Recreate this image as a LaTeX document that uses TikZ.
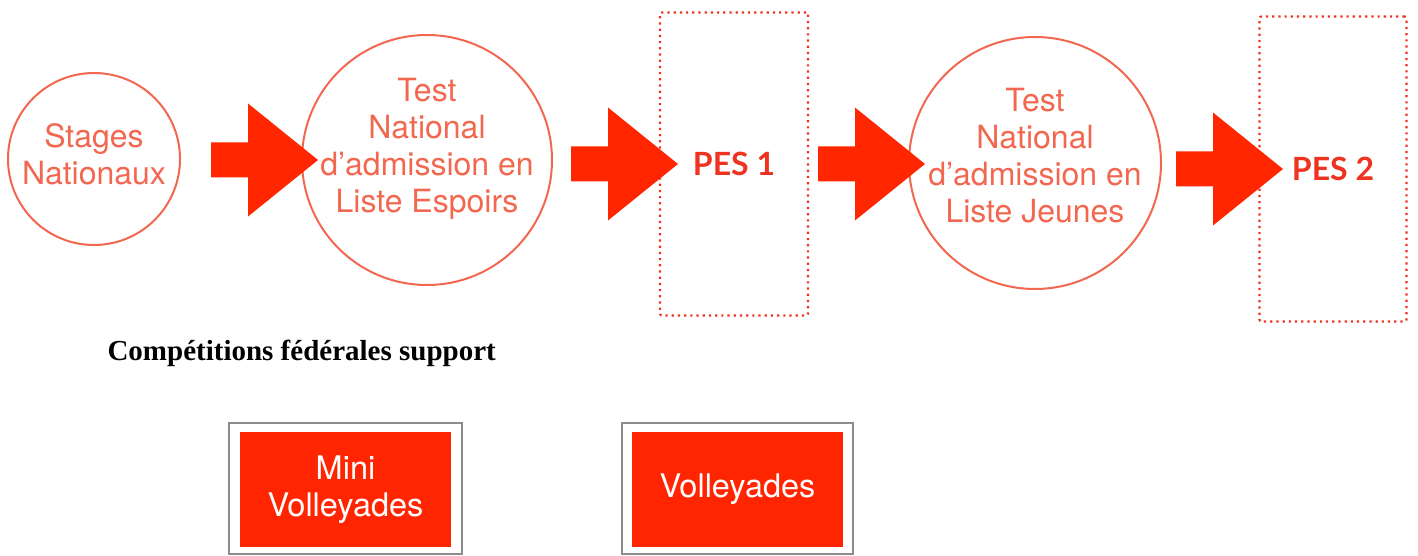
\documentclass[tikz,border=0pt]{standalone}
\usepackage{fontspec}
\setmainfont{Liberation Serif}
\newfontfamily\helvfont{TeX Gyre Heros}
\newfontfamily\pesfont{Lato}
\definecolor{ringred}{HTML}{F2674F}
\definecolor{arrowred}{HTML}{FF2600}
\definecolor{boxred}{HTML}{FF2500}
\definecolor{pesred}{HTML}{EE3320}
\tikzset{
  ring/.style={circle, draw=ringred, line width=2pt, inner sep=0pt},
  ringtext/.style={text=ringred, font=\helvfont\fontsize{32}{37}\selectfont, align=center},
  pesbox/.style={draw=pesred, line width=2.2pt, dash pattern=on 2.2pt off 4pt,
    rounded corners=2pt, inner sep=0pt},
  pestext/.style={text=pesred, font=\pesfont\bfseries\fontsize{32}{36}\selectfont},
  frame/.style={draw=gray!90, fill=white, line width=2.5pt},
  compbox/.style={fill=boxred, text=white, font=\helvfont\fontsize{32.5}{37}\selectfont,
    align=center, minimum width=211pt, minimum height=115pt, inner sep=0pt}
}

\begin{document}
\begin{tikzpicture}[x=1pt, y=-1pt]
        \useasboundingbox (0,0) rectangle (1418,556);
        % circles
        \node[ring, minimum size=172pt] (stages) at (94,159) {};
        \node[ringtext] (stagestext) at ([yshift=5pt]stages.center) {Stages\\Nationaux};
        \node[ring, minimum size=250pt] (espoirs) at (427,160) {};
        \node[ringtext] (espoirstext) at ([yshift=11pt]espoirs.center) {Test\\National\\d’admission en\\Liste Espoirs};
        \node[ring, minimum size=252pt] (jeunes) at (1035,163) {};
        \node[ringtext] (jeunestext) at ([yshift=7pt]jeunes.center) {Test\\National\\d’admission en\\Liste Jeunes};
        % dotted boxes
        \node[pesbox, pestext, minimum width=148pt, minimum height=303pt] (pes1) at (734,164) {PES 1};
        \node[pesbox, pestext, minimum width=147pt, minimum height=305pt] (pes2) at (1333,169) {PES 2};
        % big arrows
        \foreach \x/\y in {211/160, 571/164, 818/164, 1176/169}
          \fill[arrowred] (\x,{\y-17.5}) -- ({\x+37},{\y-17.5}) -- ({\x+37},{\y-56.5})
            -- ({\x+107},\y) -- ({\x+37},{\y+56.5}) -- ({\x+37},{\y+17.5})
            -- (\x,{\y+17.5}) -- cycle;
        % competitions
        \node[anchor=base west, font=\bfseries\fontsize{29}{33}\selectfont] (support)
          at (104,360) {Compétitions fédérales support};
        \draw[frame] (229,423) rectangle (462,554);
        \node[compbox] (mini) at (345.5,489.5) {Mini\\Volleyades};
        \draw[frame] (622,423) rectangle (853,554);
        \node[compbox] (volley) at (737.5,489.5) {Volleyades};
      \end{tikzpicture}
\end{document}
